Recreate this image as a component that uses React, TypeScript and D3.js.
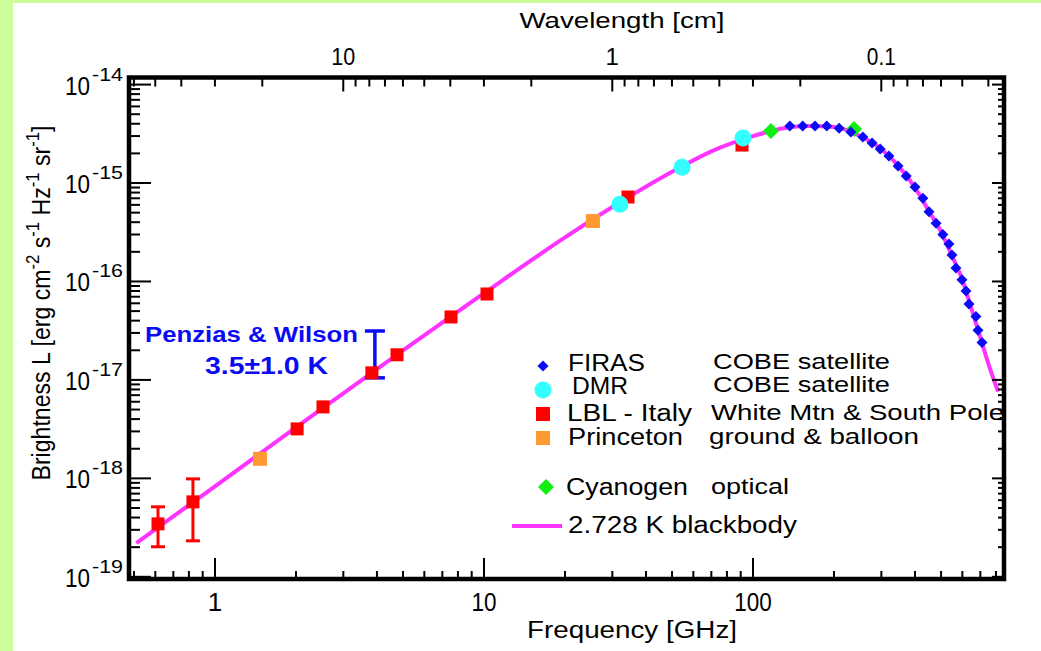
import React from "react";
import * as d3 from "d3";

const W = 1041;
const H = 651;
const C_CM_GHZ = 29.98; // wavelength [cm] = C / frequency [GHz]

// 2.728 K blackbody
const bbFreq = [0.51, 1, 2, 5, 10, 20, 30, 50, 70, 100, 130, 160, 200, 250, 300, 350, 400, 450, 500, 550, 600, 650, 700, 760, 815];
const bbL = [2.2e-19, 8.3e-19, 3.3e-18, 2.0e-17, 7.6e-17, 2.8e-16, 5.7e-16, 1.3e-15, 2.1e-15, 3.0e-15, 3.6e-15, 3.8e-15, 3.7e-15, 3.0e-15, 2.2e-15, 1.45e-15, 9.0e-16, 5.2e-16, 3.2e-16, 1.8e-16, 1.04e-16, 5.2e-17, 2.7e-17, 1.3e-17, 7.6e-18];

// FIRAS (COBE)
const firasFreq = [137, 153, 170, 188, 209, 231, 256, 277, 297, 320, 346, 371, 400, 428, 451, 479, 508, 535, 549, 568, 598, 619, 635, 674, 686, 710];
const firasL = [3.79e-15, 3.79e-15, 3.79e-15, 3.79e-15, 3.61e-15, 3.3e-15, 2.93e-15, 2.55e-15, 2.21e-15, 1.88e-15, 1.49e-15, 1.18e-15, 9.1e-16, 7.0e-16, 5.1e-16, 3.9e-16, 3.0e-16, 2.4e-16, 1.86e-16, 1.37e-16, 1.04e-16, 8.0e-17, 5.9e-17, 4.4e-17, 3.2e-17, 2.4e-17];

// DMR (COBE)
const dmrFreq = [32.0, 54.5, 91.8];
const dmrL = [6.1e-16, 1.45e-15, 2.86e-15];

// LBL - Italy
const lblFreq = [0.614, 0.828, 2.02, 2.52, 3.83, 4.75, 7.54, 10.26, 34.3, 91.0];
const lblL = [3.45e-19, 5.77e-19, 3.18e-18, 5.32e-18, 1.18e-17, 1.8e-17, 4.36e-17, 7.46e-17, 7.21e-16, 2.43e-15];
const lblErrFreq = [0.614, 0.828];
const lblErrLo = [2.02e-19, 2.32e-19];
const lblErrHi = [5.14e-19, 9.88e-19];

// Princeton
const prFreq = [1.47, 25.4];
const prL = [1.58e-18, 4.11e-16];

// Cyanogen
const cnFreq = [116.6, 237.5];
const cnL = [3.38e-15, 3.53e-15];

// Penzias & Wilson
const pwFreq = 3.93;
const pwLo = 1.05e-17;
const pwHi = 3.14e-17;

const freqLabels = [1, 10, 100];
const lambdaLabels = ["10", "1", "0.1"];
const yExponents = [-19, -18, -17, -16, -15, -14];

const FONT = "'Liberation Sans', Arial, Helvetica, sans-serif";
const MAGENTA = "#ff33ff";
const BLUE = "#0a0af5";
const RED = "#ff0000";
const ORANGE = "#ff9a33";
const CYAN = "#33ffff";
const GREEN = "#11ee11";

const diamond = (cx: number, cy: number, r: number) => `M${cx},${cy - r}L${cx + r},${cy}L${cx},${cy + r}L${cx - r},${cy}Z`;
const isMajor = (v: number) => Math.abs(Math.log10(v) - Math.round(Math.log10(v))) < 1e-6;

export default function App() {
  const left = 129;
  const right = 1004;
  const top = 77.5;
  const bottom = 579;

  const x = d3.scaleLog().domain([0.479, 857]).range([left, right]);
  const y = d3.scaleLog().domain([9.5e-20, 1.18e-14]).range([bottom, top]);
  const xl = d3.scaleLog().domain([C_CM_GHZ / 0.479, C_CM_GHZ / 857]).range([left, right]);

  const line = d3
    .line<number>()
    .x((_, i) => x(bbFreq[i]))
    .y((d) => y(d))
    .curve(d3.curveMonotoneX);

  const xTicks = x.ticks();
  const xlTicks = xl.ticks();
  const yTicks = y.ticks();

  const text = { fontFamily: FONT, fill: "#000" };

  return (
    <svg width={W} height={H} style={{ position: "absolute", left: 0, top: 0 }}>
      <rect x={0} y={0} width={W} height={H} fill="#ccff99" />
      <rect x={13} y={3} width={W - 13} height={H - 3} fill="#fff" />

      {/* blackbody curve */}
      <path d={line(bbL) || ""} fill="none" stroke={MAGENTA} strokeWidth={4} />

      {/* Penzias & Wilson */}
      <g stroke={BLUE} strokeWidth={3.5}>
        <line x1={x(pwFreq)} x2={x(pwFreq)} y1={y(pwLo)} y2={y(pwHi)} />
        <line x1={x(pwFreq) - 10} x2={x(pwFreq) + 10} y1={y(pwLo)} y2={y(pwLo)} />
        <line x1={x(pwFreq) - 10} x2={x(pwFreq) + 10} y1={y(pwHi)} y2={y(pwHi)} />
      </g>
      <text x={145} y={342} fontFamily={FONT} fontWeight="bold" fontSize={22} fill={BLUE} textLength={213} lengthAdjust="spacingAndGlyphs">
        Penzias &amp; Wilson
      </text>
      <text x={205} y={374} fontFamily={FONT} fontWeight="bold" fontSize={23} fill={BLUE} textLength={123} lengthAdjust="spacingAndGlyphs">
        3.5±1.0 K
      </text>

      {/* LBL error bars */}
      <g stroke={RED} strokeWidth={3}>
        {lblErrFreq.map((f, i) => (
          <g key={i}>
            <line x1={x(f)} x2={x(f)} y1={y(lblErrLo[i])} y2={y(lblErrHi[i])} />
            <line x1={x(f) - 7} x2={x(f) + 7} y1={y(lblErrLo[i])} y2={y(lblErrLo[i])} />
            <line x1={x(f) - 7} x2={x(f) + 7} y1={y(lblErrHi[i])} y2={y(lblErrHi[i])} />
          </g>
        ))}
      </g>

      {lblFreq.map((f, i) => (
        <rect key={"l" + i} x={x(f) - 6.5} y={y(lblL[i]) - 6.5} width={13} height={13} fill={RED} />
      ))}
      {prFreq.map((f, i) => (
        <rect key={"p" + i} x={x(f) - 7} y={y(prL[i]) - 7} width={14} height={14} fill={ORANGE} />
      ))}
      {dmrFreq.map((f, i) => (
        <circle key={"d" + i} cx={x(f)} cy={y(dmrL[i])} r={8.5} fill={CYAN} />
      ))}
      {cnFreq.map((f, i) => (
        <path key={"c" + i} d={diamond(x(f), y(cnL[i]), 8)} fill={GREEN} />
      ))}
      {firasFreq.map((f, i) => (
        <path key={"f" + i} d={diamond(x(f), y(firasL[i]), 5.5)} fill={BLUE} />
      ))}

      {/* legend */}
      <g fontFamily={FONT} fill="#000">
        <path d={diamond(543, 366, 5.5)} fill={BLUE} />
        <circle cx={543} cy={390} r={8.5} fill={CYAN} />
        <rect x={536} y={407} width={14} height={14} fill={RED} />
        <rect x={536} y={431} width={14} height={14} fill={ORANGE} />
        <path d={diamond(546, 487, 8)} fill={GREEN} />
        <line x1={512} x2={562} y1={526} y2={526} stroke={MAGENTA} strokeWidth={4} />

        <text x={568} y={371} fontSize={23} textLength={77} lengthAdjust="spacingAndGlyphs">FIRAS</text>
        <text x={572} y={394} fontSize={23} textLength={56} lengthAdjust="spacingAndGlyphs">DMR</text>
        <text x={567} y={421} fontSize={23} textLength={125} lengthAdjust="spacingAndGlyphs">LBL - Italy</text>
        <text x={568} y={445} fontSize={23} textLength={115} lengthAdjust="spacingAndGlyphs">Princeton</text>
        <text x={566} y={495} fontSize={23} textLength={122} lengthAdjust="spacingAndGlyphs">Cyanogen</text>
        <text x={568} y={533} fontSize={23} textLength={229} lengthAdjust="spacingAndGlyphs">2.728 K blackbody</text>

        <text x={713} y={369} fontSize={22} textLength={177} lengthAdjust="spacingAndGlyphs">COBE satellite</text>
        <text x={713} y={392} fontSize={22} textLength={177} lengthAdjust="spacingAndGlyphs">COBE satellite</text>
        <text x={711} y={420} fontSize={22} textLength={293} lengthAdjust="spacingAndGlyphs">White Mtn &amp; South Pole</text>
        <text x={709} y={444} fontSize={22} textLength={210} lengthAdjust="spacingAndGlyphs">ground &amp; balloon</text>
        <text x={711} y={494} fontSize={22} textLength={78} lengthAdjust="spacingAndGlyphs">optical</text>
      </g>

      {/* ticks */}
      <g stroke="#000" strokeWidth={2}>
        {xTicks.map((v, i) => (
          <line key={"b" + i} x1={x(v)} x2={x(v)} y1={bottom} y2={bottom - (isMajor(v) ? 21 : 8)} />
        ))}
        {xlTicks.map((v, i) => (
          <line key={"t" + i} x1={xl(v)} x2={xl(v)} y1={top} y2={top + (isMajor(v) ? 14 : 9)} />
        ))}
        {yTicks.map((v, i) => (
          <g key={"y" + i}>
            <line x1={left} x2={left + (isMajor(v) ? 22 : 11)} y1={y(v)} y2={y(v)} />
            <line x1={right} x2={right - (isMajor(v) ? 12 : 6)} y1={y(v)} y2={y(v)} />
          </g>
        ))}
      </g>

      {/* frame */}
      <rect x={left} y={top} width={right - left} height={bottom - top} fill="none" stroke="#000" strokeWidth={4.5} />

      {/* bottom tick labels */}
      {freqLabels.map((v) => {
        const s = String(v);
        return (
          <text key={"fl" + v} x={x(v)} y={611} textAnchor="middle" fontSize={26} {...text}
            {...(s.length > 1 ? { textLength: s.length * 12.5, lengthAdjust: "spacingAndGlyphs" } : {})}>
            {s}
          </text>
        );
      })}

      {/* top tick labels */}
      {lambdaLabels.map((s) => (
        <text key={"ll" + s} x={xl(+s)} y={65} textAnchor="middle" fontSize={24} {...text}
          {...(s.length > 1 ? { textLength: s.length === 2 ? 24 : 29, lengthAdjust: "spacingAndGlyphs" } : {})}>
          {s}
        </text>
      ))}

      {/* left tick labels */}
      {yExponents.map((e) => {
        const yy = y(Math.pow(10, e));
        return (
          <g key={"ye" + e} {...text}>
            <text x={90} y={yy + 10} textAnchor="end" fontSize={25} fontFamily={FONT} textLength={25} lengthAdjust="spacingAndGlyphs">10</text>
            <text x={92} y={yy - 4} fontSize={18} fontFamily={FONT} textLength={31} lengthAdjust="spacingAndGlyphs">{String(e)}</text>
          </g>
        );
      })}

      {/* axis titles */}
      <text x={622} y={28} textAnchor="middle" fontSize={22} {...text} textLength={205} lengthAdjust="spacingAndGlyphs">
        Wavelength [cm]
      </text>
      <text x={632} y={638} textAnchor="middle" fontSize={23} {...text} textLength={210} lengthAdjust="spacingAndGlyphs">
        Frequency [GHz]
      </text>
      <text transform="translate(50,303) rotate(-90)" textAnchor="middle" fontSize={25} {...text} textLength={355} lengthAdjust="spacingAndGlyphs">
        Brightness L [erg cm
        <tspan dy={-11} fontSize={18}>-2</tspan>
        <tspan dy={11}> s</tspan>
        <tspan dy={-11} fontSize={18}>-1</tspan>
        <tspan dy={11}> Hz</tspan>
        <tspan dy={-11} fontSize={18}>-1</tspan>
        <tspan dy={11}> sr</tspan>
        <tspan dy={-11} fontSize={18}>-1</tspan>
        <tspan dy={11}>]</tspan>
      </text>
    </svg>
  );
}
